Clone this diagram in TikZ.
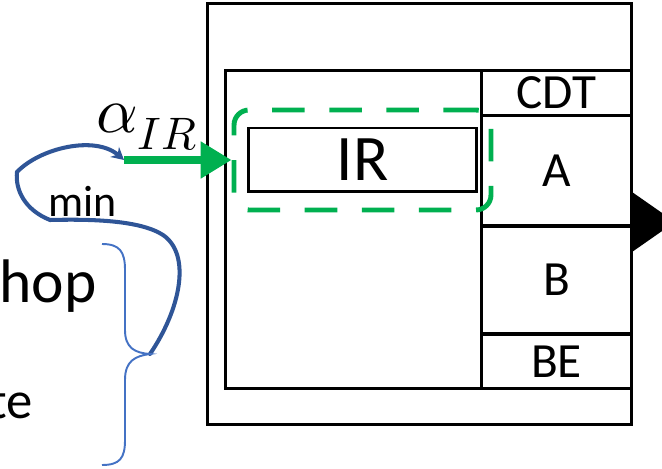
\documentclass[tikz,border=0pt]{standalone}
\usepackage{fontspec}
\usepackage{unicode-math}
\setmainfont{Carlito}
\setmathfont{Latin Modern Math}
\usetikzlibrary{arrows.meta,calc,positioning,fit}

\definecolor{focusgreen}{HTML}{00B050}
\definecolor{loopblue}{HTML}{2F5597}
\definecolor{braceblue}{HTML}{4472C4}

\begin{document}
\begin{tikzpicture}[
  x=0.02cm,y=-0.02cm,
  box/.style={draw,rectangle,line width=1.7pt,inner sep=0pt,outer sep=0pt},
  cell/.style={box,minimum width=3.02cm,font=\fontsize{28}{30}\selectfont},
  focus/.style={draw=focusgreen,line width=2.8pt,rounded corners=0.3cm,
                dash pattern=on 18.5pt off 14pt,inner sep=0pt},
  feed/.style={draw=focusgreen,line width=5pt,
               -{Triangle[length=17.6pt,width=20pt]}},
  loopline/.style={draw=loopblue,line width=2.3pt,line cap=round,
                   -{Stealth[length=7pt,width=7.5pt]}},
  bracket/.style={draw=braceblue,line width=1.1pt},
  side/.style={anchor=base east,inner sep=0pt,font=\fontsize{35}{38}\selectfont},
]
\useasboundingbox (0,0) rectangle (662,469);
\clip (0,0) rectangle (662,469);

%% =====================================================
%%  Block: outer frame, inner frame, column of cells
%% =====================================================
\node[box,minimum width=8.5cm,minimum height=8.44cm] (outer) at (419.5,214) {};
\node[box,minimum width=8.14cm,minimum height=6.38cm] (inner) at (428.5,229.5) {};

\node[cell,minimum height=0.92cm] (cdt) at (556.5,93) {CDT};
\node[cell,minimum height=2.2cm,below=0pt of cdt] (cella) {A};
\node[cell,minimum height=2.16cm,below=0pt of cella] (cellb) {B};
\node[cell,minimum height=1.1cm,below=0pt of cellb] (be) {BE};

% thicker separators
\draw[line width=2.6pt] (cella.south west) -- (cella.south east);
\draw[line width=2.2pt] (cellb.south west) -- (cellb.south east);

% output port
\fill (632,192) -- (675,222) -- (632,252) -- cycle;

% --- IR register and its highlight ---
\node[box,minimum width=4.58cm,minimum height=1.28cm,
      font=\fontsize{37}{40}\selectfont] (ir) at (362.5,160) {IR};
\node[focus,minimum width=5.14cm,minimum height=2.0cm] (hl) at (362.5,160) {};

%% =====================================================
%%  Input and feedback loop
%% =====================================================
\coordinate (irin) at (124,160);
\node[anchor=base west,inner sep=0pt,font=\fontsize{37}{40}\selectfont]
     (alpha) at (96,133) {$\alpha_{IR}$};
\draw[feed] (irin) -- (hl.west);

\coordinate (bracetip) at (150,354);
\draw[loopline] (bracetip)
   .. controls (180,310) and (192,255) .. (163,235)
   .. controls (140,220) and (90,219) .. (50,220)
   .. controls (25,210) and (15,190) .. (17,172)
   .. controls (40,148) and (95,135) .. (irin);
\node[anchor=base west,inner sep=0pt,font=\fontsize{25}{28}\selectfont]
     (minlbl) at (48,217) {min};

% brace over the cut-off list
\draw[bracket] (102,244) .. controls (120,244) and (125,252) .. (125,270)
   -- (125,330) .. controls (125,348) and (135,353) .. (bracetip)
   .. controls (135,356) and (125,361) .. (125,380)
   -- (125,440) .. controls (125,458) and (120,465) .. (102,465);

\node[side] (hop) at (97,302) {hop};
\node[side,font=\fontsize{30}{33}\selectfont] (te) at (33,418) {te};

\end{tikzpicture}
\end{document}
